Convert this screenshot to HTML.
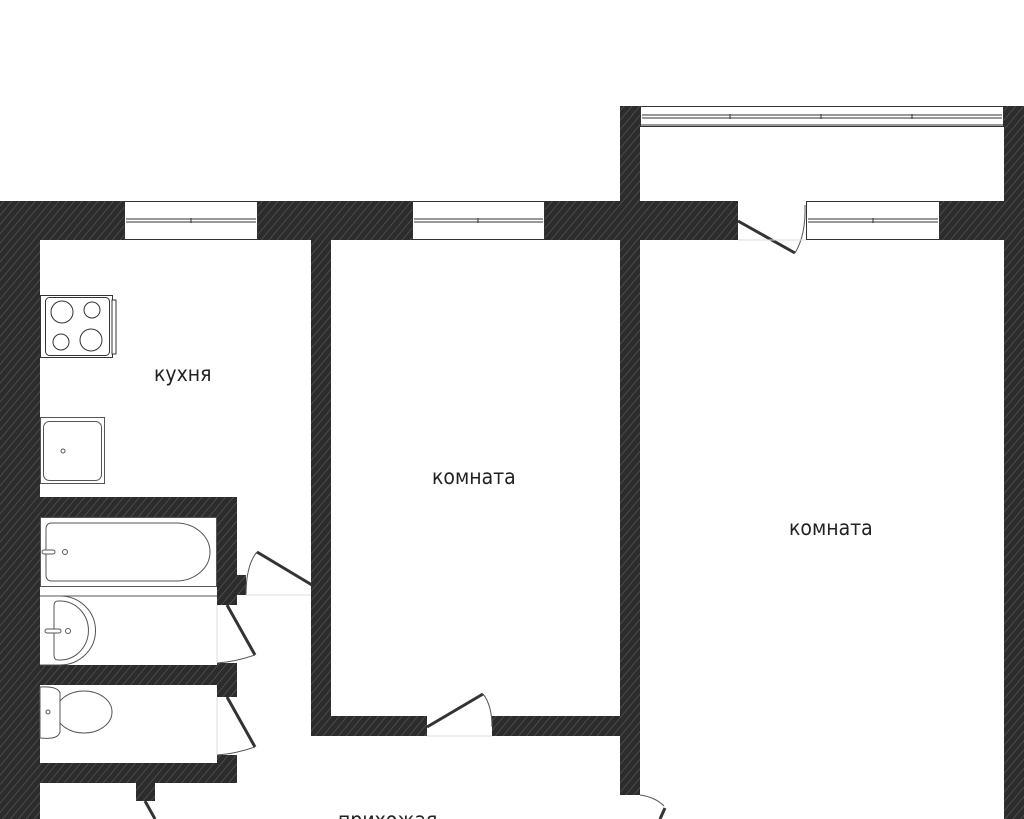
<!DOCTYPE html>
<html><head><meta charset="utf-8"><style>
html,body{margin:0;padding:0;background:#fff;width:1024px;height:819px;overflow:hidden}
text{font-family:"DejaVu Sans Condensed","Liberation Sans",sans-serif;font-size:21px;fill:#222}
</style></head><body>
<svg width="1024" height="819" viewBox="0 0 1024 819" xmlns="http://www.w3.org/2000/svg">
<defs>
<pattern id="h" width="6" height="6" patternUnits="userSpaceOnUse" patternTransform="rotate(40)">
<rect width="6" height="6" fill="#2c2c2c"/><line x1="0" y1="0" x2="0" y2="6" stroke="#5a5a5a" stroke-width="1.3"/>
</pattern>
</defs>
<g fill="url(#h)">
<!-- outer left -->
<rect x="0" y="201" width="40" height="618"/>
<!-- top wall segments -->
<rect x="0" y="201" width="124" height="39"/>
<rect x="258" y="201" width="154" height="39"/>
<rect x="545" y="201" width="193" height="39"/>
<rect x="940" y="201" width="84" height="39"/>
<!-- balcony sides -->
<rect x="620" y="106" width="20" height="134"/>
<rect x="1004" y="106" width="20" height="134"/>
<!-- right outer -->
<rect x="1004" y="240" width="20" height="579"/>
<!-- kitchen/room partition -->
<rect x="311" y="240" width="20" height="496"/>
<!-- room bottom wall -->
<rect x="311" y="716" width="116" height="20"/>
<rect x="492" y="716" width="148" height="20"/>
<!-- middle wall -->
<rect x="620" y="240" width="20" height="555"/>
<!-- bathroom block -->
<rect x="40" y="497" width="197" height="20"/>
<rect x="217" y="497" width="20" height="108"/>
<rect x="237" y="575" width="9" height="20"/>
<rect x="40" y="665" width="197" height="20"/>
<rect x="217" y="663" width="20" height="34"/>
<rect x="217" y="755" width="20" height="28"/>
<rect x="40" y="763" width="197" height="20"/>
<rect x="136" y="783" width="19" height="18"/>
</g>
<!-- windows -->
<g fill="#fff" stroke="#333" stroke-width="1">
<rect x="124.5" y="201.5" width="133" height="38"/>
<rect x="412.5" y="201.5" width="132" height="38"/>
<rect x="806.5" y="201.5" width="133" height="38"/>
<rect x="640.5" y="106.5" width="363" height="20"/>
</g>
<g stroke="#333" stroke-width="1" fill="none">
<line x1="126" y1="219" x2="256" y2="219"/><line x1="126" y1="222" x2="256" y2="222"/>
<line x1="414" y1="219" x2="543" y2="219"/><line x1="414" y1="222" x2="543" y2="222"/>
<line x1="808" y1="219" x2="938" y2="219"/><line x1="808" y1="222" x2="938" y2="222"/>
<line x1="642" y1="115" x2="1002" y2="115"/><line x1="642" y1="118" x2="1002" y2="118"/>
<line x1="641" y1="125" x2="1003" y2="125"/>
<line x1="191" y1="218" x2="191" y2="223"/><line x1="478" y1="218" x2="478" y2="223"/><line x1="873" y1="218" x2="873" y2="223"/>
<line x1="730" y1="114" x2="730" y2="119"/><line x1="821" y1="114" x2="821" y2="119"/><line x1="912" y1="114" x2="912" y2="119"/>
</g>
<!-- doors -->
<g stroke="#333" stroke-width="3" fill="none">
<line x1="738" y1="221" x2="795" y2="253"/>
<line x1="257" y1="552" x2="312" y2="585"/>
<line x1="227" y1="605" x2="255" y2="655"/>
<line x1="227" y1="697" x2="255" y2="747"/>
<line x1="427" y1="727" x2="483" y2="694"/>
<line x1="145" y1="801" x2="155" y2="819"/>
<line x1="660" y1="819" x2="665" y2="808"/>
</g>
<g stroke="#555" stroke-width="1" fill="none">
<path d="M795 253 Q806 235 805 205"/>
<path d="M257 552 Q246 565 246 595"/>
<path d="M255 655 Q235 662 217 663"/>
<path d="M255 747 Q235 754 217 755"/>
<path d="M483 694 Q492 705 492 727"/>
<path d="M640 795 Q655 797 664 806"/>
</g>
<!-- stove -->
<g stroke="#333" stroke-width="1" fill="#fff">
<rect x="40.5" y="295.5" width="72" height="62"/>
<rect x="45.5" y="297.5" width="64" height="58" rx="4"/>
<rect x="112" y="300" width="4" height="54"/>
<circle cx="62" cy="312" r="11"/><circle cx="92" cy="310" r="8"/>
<circle cx="61" cy="342" r="8"/><circle cx="91" cy="340" r="11"/>
</g>
<!-- sink -->
<g stroke="#555" stroke-width="1" fill="#fff">
<rect x="40.5" y="417.5" width="64" height="66"/>
<rect x="43.5" y="421.5" width="58" height="59" rx="6"/>
<circle cx="63" cy="451" r="2"/>
<!-- bath -->
<rect x="40.5" y="517.5" width="176" height="69"/>
<path d="M52 523 H176 A34 29 0 0 1 176 581 H52 Q46 581 46 575 V529 Q46 523 52 523Z"/>
<circle cx="65" cy="552" r="2.5"/><rect x="42" y="550" width="13" height="4" rx="2"/>
<line x1="40" y1="596" x2="217" y2="596"/>
<!-- washbasin -->
<path d="M40 596 H60 A35 34 0 0 1 60 665 H40"/>
<path d="M60 601 A27 28 0 0 1 60 660 H58 Q54 660 54 655 V606 Q54 601 58 601Z"/>
<circle cx="68" cy="631" r="2.5"/><rect x="45" y="629" width="16" height="4" rx="2"/>
<!-- toilet -->
<ellipse cx="84" cy="712" rx="28" ry="21"/>
<path d="M40 687 Q58 686 60 693 V732 Q58 740 40 738Z"/>
<circle cx="48" cy="712" r="2"/>
</g>
<g stroke="#ddd" stroke-width="1">
<line x1="217" y1="605" x2="217" y2="663"/><line x1="217" y1="697" x2="217" y2="755"/>
<line x1="427" y1="736" x2="492" y2="736"/><line x1="246" y1="595" x2="311" y2="595"/>
<line x1="738" y1="240" x2="806" y2="240"/>
</g>
<text x="154" y="381">кухня</text>
<text x="432" y="484">комната</text>
<text x="789" y="535">комната</text>
<text x="338" y="827">прихожая</text>
</svg>
</body></html>
